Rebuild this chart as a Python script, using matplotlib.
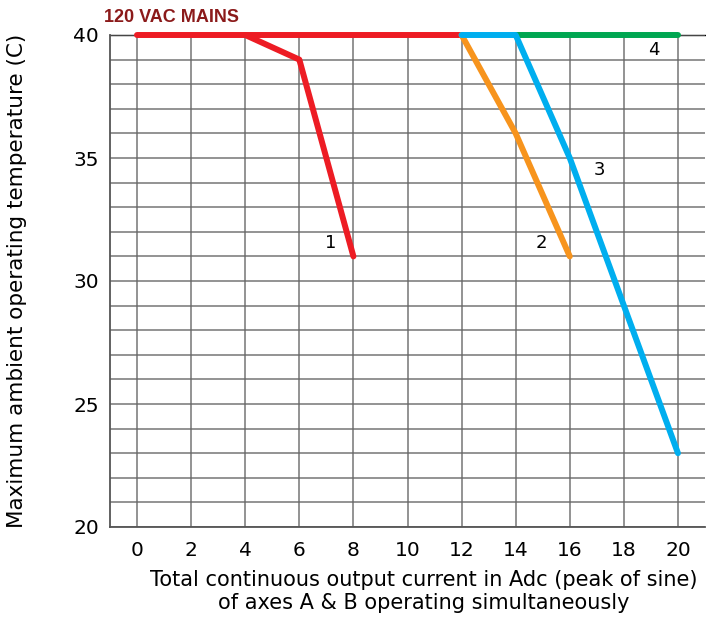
import matplotlib
matplotlib.use("Agg")
import matplotlib.pyplot as plt
from matplotlib.ticker import MultipleLocator

# Data
x_red_flat = [0, 12]
y_red_flat = [40, 40]
x_curve1 = [4, 6, 8]
y_curve1 = [40, 39, 31]
x_curve2 = [12, 14, 16]
y_curve2 = [40, 36, 31]
x_curve3 = [12, 14, 16, 20]
y_curve3 = [40, 40, 35, 23]
x_curve4 = [14, 20]
y_curve4 = [40, 40]
x_ticks = [0, 2, 4, 6, 8, 10, 12, 14, 16, 18, 20]
y_ticks = [20, 25, 30, 35, 40]
curve_labels = ["1", "2", "3", "4"]
label_x = [7.15, 14.95, 17.1, 19.1]
label_y = [31.55, 31.55, 34.5, 39.4]

RED = "#ED1C24"
ORANGE = "#F7941D"
BLUE = "#00AEEF"
GREEN = "#00A651"

fig = plt.figure(figsize=(7.06, 6.22), dpi=100)
ax = fig.add_axes([110/706, 1-527/622, (705-110)/706, (527-35)/622])
ax.set_xlim(-1, 21)
ax.set_ylim(20, 40)

ax.set_xticks(x_ticks)
ax.set_yticks(y_ticks)
ax.yaxis.set_minor_locator(MultipleLocator(1))
ax.grid(True, which="both", color="#666666", linewidth=1.1, alpha=0.9)
ax.tick_params(which="both", length=0, labelsize=14.5)
ax.tick_params(axis="x", pad=10)
ax.tick_params(axis="y", pad=8)
for s in ["top", "right"]:
    ax.spines[s].set_visible(False)
for s in ["left", "bottom"]:
    ax.spines[s].set_color("#555555")
    ax.spines[s].set_linewidth(1.3)
ax.axhline(40, color="black", linewidth=1.0, zorder=1, clip_on=False)

lw = 4.3
kw = dict(linewidth=lw, solid_capstyle="round", solid_joinstyle="round", clip_on=False, zorder=5)
ax.plot(x_red_flat, y_red_flat, color=RED, **kw)
ax.plot(x_curve1, y_curve1, color=RED, **kw)
ax.plot(x_curve2, y_curve2, color=ORANGE, **kw)
ax.plot(x_curve4, y_curve4, color=GREEN, **kw)
ax.plot(x_curve3, y_curve3, color=BLUE, **kw)

for t, lx, ly in zip(curve_labels, label_x, label_y):
    ax.text(lx, ly, t, fontsize=13, ha="center", va="center", zorder=6)

ax.set_xlabel("Total continuous output current in Adc (peak of sine)\nof axes A & B operating simultaneously",
              fontsize=15, linespacing=1.15)
ax.xaxis.set_label_coords(0.528, -0.088)
ax.set_ylabel("Maximum ambient operating temperature (C)", fontsize=15.5)
ax.yaxis.set_label_coords(-0.14, 0.5)

fig.text(104/706, 1-17/622, "120 VAC MAINS", color="#8B1A1A", fontsize=13, fontweight="bold",
         family=["Liberation Sans Narrow", "Liberation Sans", "DejaVu Sans"], ha="left", va="center")

fig.savefig("out.png", dpi=100)
